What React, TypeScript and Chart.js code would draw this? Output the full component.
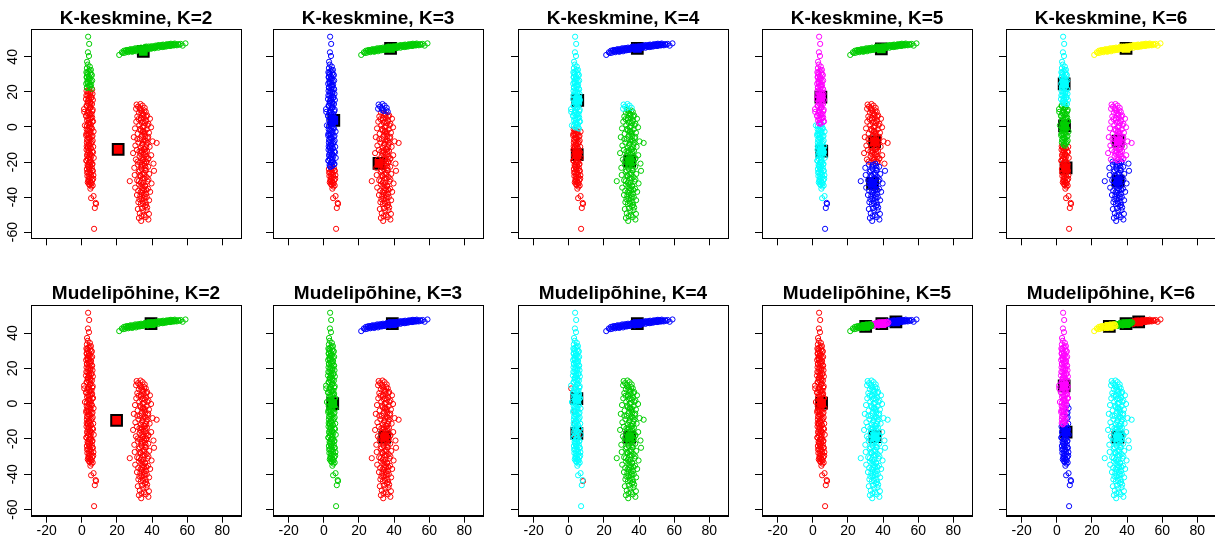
import React, { useEffect, useRef } from 'react';
import { Chart, registerables } from 'chart.js';

Chart.register(...registerables);

const FONT = "Arial, 'Liberation Sans', Helvetica, sans-serif";

const COLORS: Record<string, string> = {
  red: '#FF0000',
  green: '#00CD00',
  blue: '#0000FF',
  cyan: '#00FFFF',
  magenta: '#FF00FF',
  yellow: '#FFFF00',
};

const panelTitles = [
  'K-keskmine, K=2', 'K-keskmine, K=3', 'K-keskmine, K=4', 'K-keskmine, K=5', 'K-keskmine, K=6',
  'Mudelipõhine, K=2', 'Mudelipõhine, K=3', 'Mudelipõhine, K=4', 'Mudelipõhine, K=5', 'Mudelipõhine, K=6',
];

const xTicks = [-20, 0, 20, 40, 60, 80];
const yTicks = [-60, -40, -20, 0, 20, 40];
const xRange = [-28.9, 90.6];
const yRange = [-63.5, 55.9];

// left vertical group
const clusterA: number[][] = [
  [3.6, 51.5], [4.2, 47.4], [3.5, 42.6], [4.1, 40.5], [3.0, 37.2], [3.4, 35.6], [4.6, 34.4], [2.9, 33.6],
  [5.2, 32.6], [3.8, 31.9], [2.6, 31.2], [4.9, 30.7], [3.3, 30.1], [5.7, 29.5], [4.1, 28.8], [2.8, 28.2],
  [4.6, 27.6], [3.5, 27.0], [5.9, 26.5], [3.1, 25.8], [4.4, 25.2], [2.5, 24.7], [5.3, 24.1], [3.9, 23.5],
  [4.8, 22.9], [3.0, 22.3], [5.6, 21.8], [4.2, 21.2], [2.7, 20.6], [5.0, 20.0], [3.6, 19.4], [6.1, 18.9],
  [4.5, 18.3], [3.2, 17.7], [5.4, 17.1], [4.0, 16.5], [2.4, 15.9], [6.3, 15.4], [3.7, 14.8], [4.9, 14.2],
  [3.4, 13.6], [5.8, 13.1], [4.3, 12.5], [2.9, 11.9], [5.1, 11.3], [4.6, 10.7], [1.3, 10.2], [3.8, 9.6],
  [6.0, 9.0], [4.1, 8.4], [3.1, 7.9], [5.5, 7.3], [4.4, 6.7], [2.6, 6.1], [5.9, 5.5], [3.6, 5.0],
  [4.8, 4.4], [3.0, 3.8], [6.4, 3.2], [4.2, 2.6], [3.5, 2.1], [5.2, 1.5], [1.8, 0.9], [4.7, 0.3],
  [3.9, -0.3], [5.8, -0.9], [2.8, -1.4], [4.5, -2.0], [6.7, -2.6], [3.3, -3.2], [5.0, -3.7], [4.0, -4.3],
  [2.5, -4.9], [5.6, -5.5], [3.7, -6.0], [4.9, -6.6], [3.2, -7.2], [6.2, -7.8], [4.3, -8.4], [2.9, -8.9],
  [5.3, -9.5], [3.8, -10.1], [4.6, -10.7], [6.5, -11.3], [3.4, -11.8], [5.1, -12.4], [2.7, -13.0], [4.2, -13.6],
  [5.9, -14.1], [3.6, -14.7], [4.8, -15.3], [3.0, -15.9], [5.5, -16.4], [4.1, -17.0], [6.8, -17.6], [3.5, -18.2],
  [4.7, -18.8], [2.6, -19.3], [5.3, -19.9], [4.0, -20.5], [6.1, -21.1], [3.3, -21.7], [4.9, -22.2], [3.8, -22.8],
  [5.7, -23.4], [2.9, -24.0], [4.4, -24.6], [6.3, -25.1], [3.6, -25.7], [5.0, -26.3], [4.2, -26.9], [6.6, -27.5],
  [3.2, -28.0], [5.4, -28.6], [4.5, -29.2], [3.9, -29.8], [6.0, -30.4], [4.8, -31.0], [3.4, -31.6], [5.6, -32.2],
  [4.3, -32.8], [6.2, -33.4], [4.9, -35.2], [6.7, -39.4], [5.3, -40.6], [7.9, -43.3], [7.4, -46.2], [7.0, -58.1],
  [4.5, 32.3], [3.1, 31.0], [5.5, 29.9], [2.8, 28.6], [4.0, 27.4], [5.1, 26.2], [3.4, 25.0], [4.7, 23.8],
  [2.9, 22.6], [5.9, 21.5], [3.8, 20.3], [4.9, 19.1], [2.6, 18.0], [5.6, 16.8], [4.2, 15.6], [3.3, 14.5],
  [5.0, 13.3], [2.7, 12.2], [4.6, 11.0], [6.2, 9.9], [3.5, 8.7], [4.8, 7.6], [2.4, 6.4], [5.3, 5.2],
  [3.9, 4.1], [6.0, 2.9], [4.4, 1.8], [2.9, 0.6], [5.4, -0.5], [3.6, -1.7], [4.9, -2.8], [2.6, -4.0],
  [6.1, -5.1], [4.2, -6.3], [3.1, -7.5], [5.7, -8.6], [4.0, -9.8], [2.8, -11.0], [5.2, -12.1], [3.7, -13.3],
  [6.4, -14.4], [4.5, -15.6], [3.2, -16.7], [5.0, -17.9], [2.7, -19.1], [4.6, -20.2], [5.8, -21.4], [3.5, -22.5],
  [4.3, -23.7], [6.0, -24.8], [3.0, -26.0], [5.3, -27.2], [4.1, -28.3], [6.5, -29.5], [3.8, -30.6], [5.1, -31.8],
  [4.4, -33.1], [5.5, -34.0], [3.9, -31.2],
];

// points of the left group that the model with K=4 puts in its own class
const clusterAExtra: number[][] = [[1.4, 8.6], [3.2, -4.4], [3.4, -11.5], [8.1, -43.9]];

// right vertical group
const clusterB: number[][] = [
  [31.2, 12.8], [33.4, 13.1], [32.0, 11.6], [34.6, 12.2], [30.9, 10.4], [35.8, 10.9], [33.1, 9.8], [36.4, 8.7],
  [32.5, 8.1], [34.9, 7.4], [37.2, 6.6], [31.6, 6.0], [35.3, 5.3], [38.8, 4.7], [33.8, 4.2], [36.6, 3.6],
  [31.0, 3.0], [34.2, 2.4], [37.9, 1.8], [32.7, 1.1], [35.6, 0.5], [39.4, -0.2], [30.3, -0.8], [36.9, -1.4],
  [33.5, -2.0], [35.0, -2.7], [38.2, -3.3], [31.8, -3.9], [34.4, -4.5], [36.1, -5.1], [29.6, -5.8], [37.5, -6.4],
  [33.0, -7.0], [35.8, -7.6], [40.3, -8.2], [32.2, -8.8], [34.7, -9.4], [42.6, -9.1], [36.8, -10.0], [30.5, -10.6],
  [38.6, -11.3], [33.6, -11.9], [35.4, -12.5], [31.3, -13.1], [37.1, -13.7], [34.1, -14.3], [29.2, -14.9], [36.3, -15.5],
  [39.5, -16.1], [32.9, -16.7], [35.0, -17.3], [38.0, -17.9], [30.8, -18.5], [34.5, -19.1], [36.7, -19.7], [33.2, -20.3],
  [40.8, -20.9], [31.9, -21.5], [35.9, -22.1], [37.8, -22.7], [29.9, -23.3], [34.0, -23.9], [36.2, -24.5], [41.1, -25.0],
  [32.4, -25.6], [35.3, -26.2], [38.4, -26.8], [30.1, -27.4], [33.7, -28.0], [36.9, -28.6], [34.8, -29.2], [27.3, -30.9],
  [31.5, -30.4], [37.4, -31.0], [35.1, -31.6], [39.7, -32.2], [32.6, -32.8], [36.0, -33.4], [33.9, -34.0], [30.4, -34.6],
  [37.7, -35.2], [35.5, -35.8], [32.1, -36.4], [38.9, -37.0], [34.3, -37.6], [36.5, -38.2], [31.4, -38.8], [33.3, -39.4],
  [37.0, -40.0], [35.2, -40.6], [32.8, -41.2], [38.3, -41.8], [34.6, -42.4], [36.3, -43.0], [33.6, -44.0], [35.9, -45.1],
  [34.2, -46.3], [36.8, -47.5], [33.0, -49.2], [35.4, -50.3], [32.5, -51.9], [37.9, -52.8], [36.4, -51.4], [33.8, -53.6],
  [34.1, 9.1], [35.2, 6.8], [33.6, 4.9], [36.0, 2.2], [34.7, -0.1], [35.9, -3.0], [33.9, -5.4], [36.5, -7.9],
  [34.3, -10.2], [35.7, -12.8], [33.4, -15.1], [36.8, -16.9], [34.9, -18.7], [35.6, -21.0], [33.8, -22.6], [36.4, -24.9],
  [34.5, -26.9], [35.8, -29.5], [33.5, -31.8], [36.1, -33.9], [34.4, -36.1], [35.3, -38.6], [33.9, -41.0], [36.6, -44.5],
  [34.8, -2.2], [36.9, -20.2], [33.1, -27.6], [35.0, -35.0], [34.0, -13.4], [37.3, -9.0],
  [32.9, 10.8], [35.6, 9.4], [34.0, 7.9], [36.8, 5.9], [32.3, 4.5], [34.8, 3.1], [37.4, 0.9], [33.2, -1.1],
  [35.5, -4.0], [37.8, -5.6], [31.6, -6.9], [34.9, -8.4], [36.7, -11.6], [32.8, -13.9], [35.3, -15.8], [37.6, -18.4],
  [31.7, -19.8], [34.2, -21.7], [36.3, -23.3], [33.0, -24.8], [35.6, -27.1], [37.9, -29.9], [32.4, -30.9], [34.6, -32.9],
  [36.7, -35.9], [33.5, -37.1], [35.9, -39.7], [32.2, -42.9], [34.9, -43.8], [37.2, -45.9], [35.0, -48.1], [34.0, -50.9],
  [38.2, -49.6], [31.9, -46.8], [36.2, -14.1], [33.9, -17.9],
];

// upper, almost horizontal group
const clusterC: number[][] = [
  [21.3, 41.1], [22.8, 42.6], [24.0, 43.5], [24.6, 42.4], [25.3, 43.9], [25.9, 43.0], [26.5, 42.7], [27.1, 44.1],
  [27.6, 43.3], [28.2, 43.8], [28.8, 42.9], [29.3, 44.4], [29.9, 43.6], [30.4, 44.9], [30.9, 43.2], [31.5, 44.3],
  [32.0, 45.0], [32.6, 43.7], [33.1, 44.6], [33.7, 45.3], [34.2, 44.0], [34.8, 45.0], [35.3, 44.4], [35.9, 45.7],
  [36.4, 44.7], [37.0, 45.2], [37.5, 44.3], [38.1, 45.9], [38.6, 45.0], [39.2, 44.6], [39.7, 46.1], [40.3, 45.3],
  [40.8, 45.9], [41.4, 44.9], [41.9, 46.4], [42.5, 45.6], [43.0, 46.0], [43.6, 45.2], [44.1, 46.7], [44.7, 45.8],
  [45.2, 46.3], [45.8, 45.6], [46.3, 47.0], [46.9, 46.1], [47.4, 46.6], [48.0, 45.9], [48.5, 47.2], [49.1, 46.4],
  [49.6, 46.9], [50.2, 46.2], [50.7, 47.5], [51.3, 46.7], [51.8, 47.1], [52.4, 46.5], [52.9, 47.6], [53.5, 47.0],
  [54.1, 46.6], [54.8, 47.3], [57.4, 46.4], [59.0, 47.7],
  [25.0, 43.4], [26.2, 43.9], [27.9, 44.4], [29.0, 43.5], [30.1, 44.0], [31.2, 43.9], [32.3, 44.2], [33.4, 43.9],
  [34.5, 44.8], [35.6, 45.1], [36.7, 45.9], [37.8, 44.9], [38.9, 45.6], [40.0, 44.9], [41.1, 45.6], [42.2, 46.0],
  [43.3, 46.6], [44.4, 45.9], [45.5, 46.8], [46.6, 45.7], [47.7, 46.9], [48.8, 46.5], [49.9, 47.3], [51.0, 46.4],
  [52.1, 47.3], [53.2, 46.8], [23.5, 42.2],
  [26.8, 43.5], [28.5, 43.2], [30.7, 44.4], [32.9, 44.9], [35.0, 44.1], [37.2, 44.8], [39.4, 45.3], [41.6, 45.2],
  [43.8, 46.2], [46.0, 46.4], [48.2, 46.3], [50.4, 46.8], [52.6, 46.9], [55.5, 46.9], [56.3, 47.4],
];

// cluster centres [x, y, colour]
const km2Centers: [number, number, string][] = [[35.0, 43.2, 'green'], [20.7, -12.8, 'red']];
const km3Centers: [number, number, string][] = [[38.0, 44.9, 'green'], [5.7, 3.8, 'blue'], [31.4, -20.8, 'red']];
const km4Centers: [number, number, string][] = [[39.0, 44.9, 'blue'], [5.1, 15.2, 'cyan'], [4.8, -15.7, 'red'], [34.7, -19.5, 'green']];
const km5Centers: [number, number, string][] = [[39.0, 44.5, 'green'], [4.6, 17.0, 'magenta'], [5.1, -13.8, 'cyan'], [35.2, -8.5, 'red'], [34.0, -32.2, 'blue']];
const km6Centers: [number, number, string][] = [[39.4, 44.9, 'yellow'], [4.2, 24.6, 'cyan'], [4.4, 0.6, 'green'], [5.3, -23.3, 'red'], [34.9, -8.1, 'magenta'], [34.9, -30.9, 'blue']];
const mb2Centers: [number, number, string][] = [[39.4, 45.3, 'green'], [19.8, -9.5, 'red']];
const mb3Centers: [number, number, string][] = [[5.1, 0.0, 'green'], [34.7, -19.0, 'red'], [39.0, 45.3, 'blue']];
const mb4Centers: [number, number, string][] = [[4.6, 2.9, 'cyan'], [4.6, -16.8, 'red'], [34.7, -19.0, 'green'], [39.0, 45.3, 'blue']];
const mb5Centers: [number, number, string][] = [[30.1, 43.8, 'green'], [39.3, 45.3, 'magenta'], [47.3, 46.3, 'blue'], [5.0, 0.3, 'red'], [35.4, -18.7, 'cyan']];
const mb6Centers: [number, number, string][] = [[4.2, 10.1, 'magenta'], [5.3, -16.2, 'blue'], [34.8, -19.0, 'cyan'], [29.9, 43.8, 'yellow'], [39.4, 45.3, 'green'], [46.6, 46.3, 'red']];

type Seg = [number, string];
type Rule = { by: 'x' | 'y'; segs: Seg[] };
type PanelSpec = {
  a: Rule; b: Rule; c: Rule;
  aExtra?: string;
  aSide?: { x: number; y: number; color: string };
  centers: [number, number, string][];
};

const LOW = -999;
const PANELS: PanelSpec[] = [
  { a: { by: 'y', segs: [[21.5, 'green'], [LOW, 'red']] }, b: { by: 'y', segs: [[LOW, 'red']] }, c: { by: 'y', segs: [[LOW, 'green']] }, centers: km2Centers },
  { a: { by: 'y', segs: [[-23, 'blue'], [LOW, 'red']] }, b: { by: 'y', segs: [[8.5, 'blue'], [LOW, 'red']] }, c: { by: 'y', segs: [[LOW, 'green']] }, centers: km3Centers },
  { a: { by: 'y', segs: [[-1, 'cyan'], [LOW, 'red']] }, b: { by: 'y', segs: [[10, 'cyan'], [LOW, 'green']] }, c: { by: 'y', segs: [[LOW, 'blue']] }, centers: km4Centers },
  { a: { by: 'y', segs: [[1.5, 'magenta'], [-41.5, 'cyan'], [LOW, 'blue']] }, b: { by: 'y', segs: [[-21, 'red'], [LOW, 'blue']] }, c: { by: 'y', segs: [[LOW, 'green']] }, centers: km5Centers },
  { a: { by: 'y', segs: [[12.5, 'cyan'], [-10.8, 'green'], [LOW, 'red']] }, b: { by: 'y', segs: [[-19.5, 'magenta'], [LOW, 'blue']] }, c: { by: 'y', segs: [[LOW, 'yellow']] }, centers: km6Centers },
  { a: { by: 'y', segs: [[LOW, 'red']] }, b: { by: 'y', segs: [[LOW, 'red']] }, c: { by: 'y', segs: [[LOW, 'green']] }, centers: mb2Centers },
  { a: { by: 'y', segs: [[LOW, 'green']] }, b: { by: 'y', segs: [[LOW, 'red']] }, c: { by: 'y', segs: [[LOW, 'blue']] }, centers: mb3Centers },
  { a: { by: 'y', segs: [[LOW, 'cyan']] }, b: { by: 'y', segs: [[LOW, 'green']] }, c: { by: 'y', segs: [[LOW, 'blue']] }, aExtra: 'red', centers: mb4Centers },
  { a: { by: 'y', segs: [[LOW, 'red']] }, b: { by: 'y', segs: [[LOW, 'cyan']] }, c: { by: 'x', segs: [[43, 'blue'], [33.5, 'magenta'], [LOW, 'green']] }, centers: mb5Centers },
  { a: { by: 'y', segs: [[-12, 'magenta'], [LOW, 'blue']] }, b: { by: 'y', segs: [[LOW, 'cyan']] }, c: { by: 'x', segs: [[43, 'red'], [33.5, 'green'], [LOW, 'yellow']] }, aSide: { x: 5.5, y: 1, color: 'blue' }, centers: mb6Centers },
];

const pick = (rule: Rule, p: number[]) => {
  const v = rule.by === 'x' ? p[0] : p[1];
  for (const [t, c] of rule.segs) if (v > t) return c;
  return rule.segs[rule.segs.length - 1][1];
};

const AXIS_W = 31;
const CANVAS_W = AXIS_W * 2 + 210;
const canvasLefts = [0, 242, 487, 731, 975];
const rowTops = [0, 270];
const rowHeights = [270, 268];
const titlePadTop = [9.2, 13.8];
const titlePadBottom = [0.8, 2.2];
const xAxisHeights = [31.7, 22.3];

const boxPlugin = {
  id: 'panelBox',
  afterDatasetsDraw(chart: any) {
    const { ctx, chartArea } = chart;
    const l = Math.round(chartArea.left) + 0.5;
    const t = Math.round(chartArea.top) + 0.5;
    const r = Math.round(chartArea.right) + 0.5;
    const b = Math.round(chartArea.bottom) + 0.5;
    ctx.save();
    ctx.strokeStyle = '#000';
    ctx.lineWidth = 1;
    ctx.strokeRect(l, t, r - l, b - t);
    ctx.restore();
  },
};

function buildDatasets(spec: PanelSpec) {
  const groups: Record<string, { x: number; y: number }[]> = {};
  const add = (c: string, p: number[]) => {
    (groups[c] = groups[c] || []).push({ x: p[0], y: p[1] });
  };
  clusterA.forEach((p) => {
    if (spec.aSide && p[0] > spec.aSide.x && p[1] < spec.aSide.y) add(spec.aSide.color, p);
    else add(pick(spec.a, p), p);
  });
  clusterAExtra.forEach((p) => add(spec.aExtra || pick(spec.a, p), p));
  clusterB.forEach((p) => add(pick(spec.b, p), p));
  clusterC.forEach((p) => add(pick(spec.c, p), p));
  const ds: any[] = Object.keys(groups).map((c) => ({
    data: groups[c],
    showLine: false,
    pointStyle: 'circle',
    pointRadius: 2.6,
    pointBorderWidth: 1,
    borderColor: COLORS[c],
    pointBorderColor: COLORS[c],
    backgroundColor: 'rgba(0,0,0,0)',
    pointBackgroundColor: 'rgba(0,0,0,0)',
  }));
  ds.push({
    data: spec.centers.map(([x, y]) => ({ x, y })),
    showLine: false,
    pointStyle: 'rect',
    pointRadius: 7.6,
    pointBorderWidth: 2,
    borderColor: '#000',
    pointBorderColor: '#000',
    backgroundColor: spec.centers.map((c) => COLORS[c[2]]),
    pointBackgroundColor: spec.centers.map((c) => COLORS[c[2]]),
  });
  return ds;
}

function Panel({ index }: { index: number }) {
  const ref = useRef<HTMLCanvasElement>(null);
  const row = Math.floor(index / 5);
  const col = index % 5;
  useEffect(() => {
    if (!ref.current) return;
    const spec = PANELS[index];
    const chart = new Chart(ref.current, {
      type: 'scatter',
      data: { datasets: buildDatasets(spec) },
      options: {
        animation: false,
        responsive: false,
        maintainAspectRatio: false,
        devicePixelRatio: 1,
        events: [],
        layout: { padding: 0 },
        plugins: {
          legend: { display: false },
          tooltip: { enabled: false },
          title: {
            display: true,
            text: panelTitles[index],
            color: '#000',
            font: { family: FONT, size: 19, weight: 'bold', lineHeight: 1 },
            padding: { top: titlePadTop[row], bottom: titlePadBottom[row] },
          },
        },
        scales: {
          x: {
            type: 'linear',
            min: xRange[0],
            max: xRange[1],
            afterBuildTicks: (s: any) => { s.ticks = xTicks.map((v) => ({ value: v })); },
            afterFit: (s: any) => { s.height = xAxisHeights[row]; },
            ticks: {
              display: row === 1,
              color: '#000',
              font: { family: FONT, size: 14 },
              padding: 0,
              maxRotation: 0,
              minRotation: 0,
              autoSkip: false,
            },
            grid: { drawOnChartArea: false, drawTicks: true, tickLength: 7, color: '#000', lineWidth: 1 },
            border: { display: true, color: '#000', width: 1 },
          },
          y: {
            type: 'linear',
            position: 'left',
            min: yRange[0],
            max: yRange[1],
            afterBuildTicks: (s: any) => { s.ticks = yTicks.map((v) => ({ value: v })); },
            afterFit: (s: any) => { s.width = AXIS_W; },
            ticks: {
              display: col === 0,
              color: '#000',
              font: { family: FONT, size: 14 },
              padding: 1,
              minRotation: 90,
              maxRotation: 90,
              crossAlign: 'center',
              autoSkip: false,
            },
            grid: { drawOnChartArea: false, drawTicks: true, tickLength: 7, color: '#000', lineWidth: 1 },
            border: { display: true, color: '#000', width: 1 },
          },
          yRightSpacer: {
            type: 'linear',
            position: 'right',
            display: true,
            min: 0,
            max: 1,
            afterFit: (s: any) => { s.width = AXIS_W; },
            ticks: { display: false },
            grid: { display: false, drawTicks: false },
            border: { display: false },
          },
        },
      } as any,
      plugins: [boxPlugin],
    });
    return () => chart.destroy();
  }, [index]);
  return (
    <canvas
      ref={ref}
      width={CANVAS_W}
      height={rowHeights[row]}
      style={{ position: 'absolute', left: canvasLefts[col], top: rowTops[row], width: CANVAS_W, height: rowHeights[row] }}
    />
  );
}

export default function App() {
  return (
    <div style={{ position: 'fixed', left: 0, top: 0, width: 1215, height: 538, overflow: 'hidden', background: '#fff' }}>
      {PANELS.map((_, i) => (
        <Panel key={i} index={i} />
      ))}
    </div>
  );
}
